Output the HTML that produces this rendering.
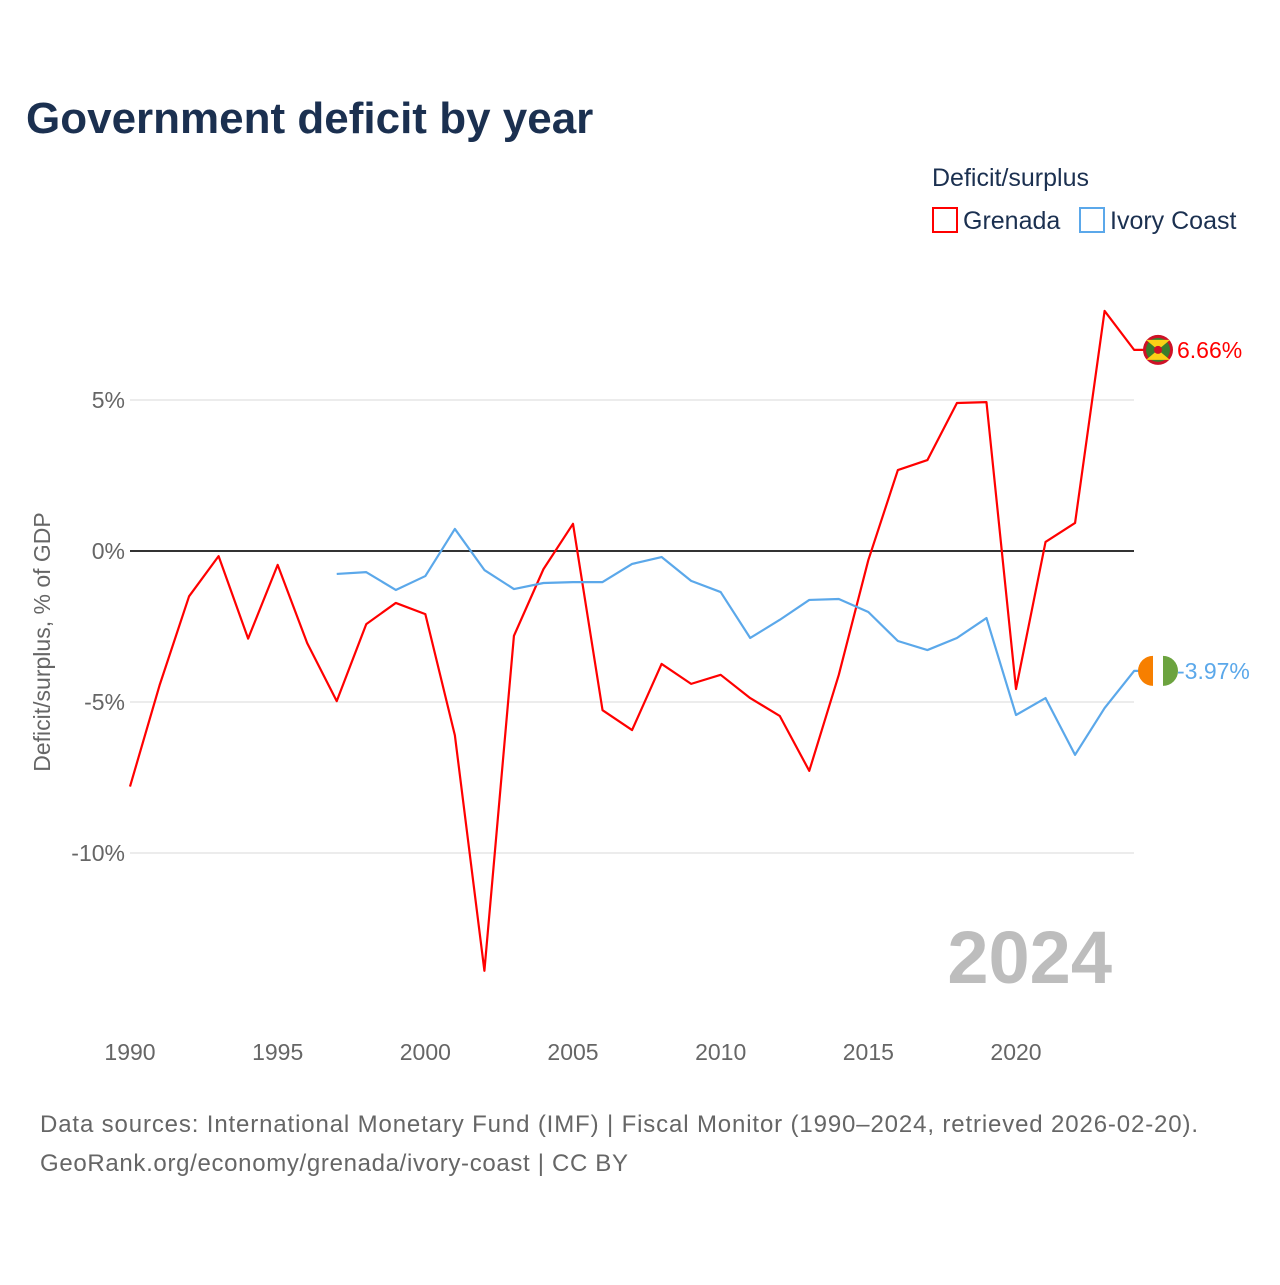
<!DOCTYPE html>
<html><head><meta charset="utf-8">
<style>
body{margin:0;background:#fff;font-family:"Liberation Sans",sans-serif;}
svg text{font-family:"Liberation Sans",sans-serif;}
</style></head>
<body>
<svg id="chart" width="1280" height="1280" xmlns="http://www.w3.org/2000/svg">
<text x="26" y="133" font-size="44" font-weight="bold" fill="#1b3050">Government deficit by year</text>
<text x="932" y="186" font-size="25" fill="#1b3050">Deficit/surplus</text>
<g><rect x="933" y="208" width="24" height="24" fill="none" stroke="#ff0000" stroke-width="2"/><text x="963" y="229" font-size="25" fill="#1b3050">Grenada</text></g>
<g><rect x="1080" y="208" width="24" height="24" fill="none" stroke="#5ba8ea" stroke-width="2"/><text x="1110" y="229" font-size="25" fill="#1b3050">Ivory Coast</text></g>
<text transform="translate(50,642) rotate(-90)" text-anchor="middle" font-size="23" fill="#666">Deficit/surplus, % of GDP</text>
<text x="1112" y="983" text-anchor="end" font-size="74" font-weight="bold" fill="#bdbdbd">2024</text>
<g id="grid"></g><g id="lines"></g><g id="labels"></g>
<text x="40" y="1132" font-size="24" fill="#666" textLength="1158" lengthAdjust="spacing">Data sources: International Monetary Fund (IMF) | Fiscal Monitor (1990–2024, retrieved 2026-02-20).</text>
<text x="40" y="1171" font-size="24" fill="#666" textLength="588" lengthAdjust="spacing">GeoRank.org/economy/grenada/ivory-coast | CC BY</text>
</svg>
<script>
const years=[];for(let y=1990;y<=2024;y++)years.push(y);
const grenada=[-7.8,-4.45,-1.5,-0.17,-2.9,-0.46,-3.05,-4.97,-2.42,-1.72,-2.09,-6.1,-13.9,-2.81,-0.6,0.9,-5.27,-5.93,-3.74,-4.4,-4.1,-4.87,-5.46,-7.28,-4.1,-0.3,2.68,3.01,4.9,4.93,-4.57,0.3,0.93,7.95,6.66];
const ivoryYears=[];for(let y=1997;y<=2024;y++)ivoryYears.push(y);
const ivory=[-0.76,-0.7,-1.29,-0.83,0.73,-0.63,-1.26,-1.06,-1.03,-1.03,-0.43,-0.2,-0.99,-1.36,-2.88,-2.28,-1.62,-1.59,-2.02,-2.98,-3.28,-2.88,-2.22,-5.43,-4.87,-6.75,-5.2,-3.97];
const yTicks=[5,0,-5,-10];
const xTicks=[1990,1995,2000,2005,2010,2015,2020];
const X=y=>130+(y-1990)*(1016-130)/30;
const Y=v=>551-v*30.2;
const NS="http://www.w3.org/2000/svg";
function mk(tag,attrs,parent){const e=document.createElementNS(NS,tag);for(const k in attrs)e.setAttribute(k,attrs[k]);parent.appendChild(e);return e;}
const grid=document.getElementById('grid'),lines=document.getElementById('lines'),labels=document.getElementById('labels');
yTicks.forEach(t=>{
 const l=mk('line',{x1:130,x2:1134,y1:Y(t),y2:Y(t),stroke:t===0?'#333':'#e6e6e6','stroke-width':t===0?2:1.5},grid);
 
 
 const tx=mk('text',{x:125,y:Y(t)+8,'text-anchor':'end','font-size':23,fill:'#666'},grid);tx.textContent=t+'%';
 
 
});
xTicks.forEach(t=>{
 const tx=mk('text',{x:X(t),y:1060,'text-anchor':'middle','font-size':23,fill:'#666'},grid);tx.textContent=t;
 
 
});
function line(xs,vs,color,name){
 const pts=xs.map((y,i)=>X(y)+','+Y(vs[i]));
 pts.push('1145,'+Y(vs[vs.length-1]));
 const p=mk('polyline',{points:pts.join(' '),fill:'none',stroke:color,'stroke-width':2.2,'stroke-linejoin':'round'},lines);
 
 
}
line(years,grenada,'#ff0000','grenada-line');
line(ivoryYears,ivory,'#5ba8ea','ivory-coast-line');
function endLabel(v,color,name,flag){
 const cx=1158,cy=Y(v);
 const g=mk('g',{},labels);
 
 
 if(flag==='gd'){
  mk('circle',{cx,cy,r:15,fill:'#ce1126'},g);
  mk('circle',{cx,cy,r:12,fill:'#3a7d2c'},g);
  mk('polygon',{points:`${cx-12},${cy-10} ${cx+12},${cy-10} ${cx},${cy}`,fill:'#fcd116'},g);
  mk('polygon',{points:`${cx-12},${cy+10} ${cx+12},${cy+10} ${cx},${cy}`,fill:'#fcd116'},g);
  mk('circle',{cx,cy,r:4,fill:'#ce1126'},g);
 }else{
  mk('path',{d:`M${cx-5},${cy-15} A15,15 0 0 0 ${cx-5},${cy+15} Z`,fill:'#f77f00'},g);
  mk('rect',{x:cx-5,y:cy-15,width:10,height:30,fill:'#fff'},g);
  mk('path',{d:`M${cx+5},${cy-15} A15,15 0 0 1 ${cx+5},${cy+15} Z`,fill:'#6ca33f'},g);
 }
 const t=mk('text',{x:1177,y:cy+8,'font-size':23,fill:color},labels);
 t.textContent=v.toFixed(2)+'%';
 
 
}
endLabel(grenada[grenada.length-1],'#ff0000','grenada','gd');
endLabel(ivory[ivory.length-1],'#5ba8ea','ivory-coast','ci');
</script>
</body></html>
